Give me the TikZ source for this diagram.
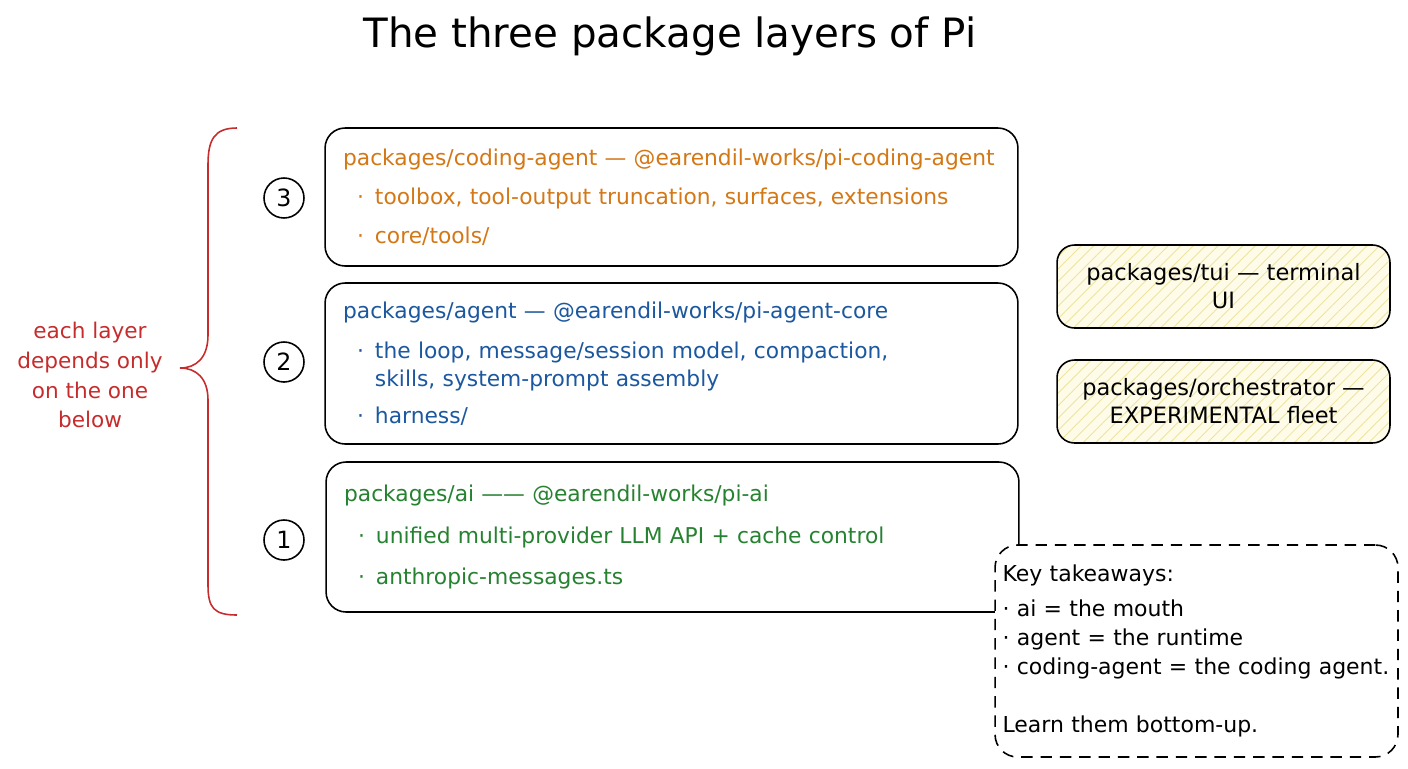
\documentclass[tikz,border=0pt]{standalone}
\usepackage{fontspec}
\setmainfont{DejaVu Sans}
\usetikzlibrary{patterns.meta}

\definecolor{layerorange}{RGB}{212,120,22}
\definecolor{layerblue}{RGB}{28,88,160}
\definecolor{layergreen}{RGB}{38,130,48}
\definecolor{notered}{RGB}{198,44,44}
\definecolor{hatchbg}{RGB}{254,251,232}
\definecolor{hatchline}{RGB}{238,228,160}

\newcommand{\bul}{\hspace*{0.28cm}·\hspace{0.22cm}}
\newcommand{\bulcont}{\hspace*{0.28cm}\phantom{·}\hspace{0.22cm}}

\begin{document}
\begin{tikzpicture}[x=0.02cm,y=-0.02cm,
	txt/.style = {font=\fontsize{12.4}{14}\selectfont},
	layer/.style = {draw,line width=0.9pt,rounded corners=0.4cm,fill=white,txt,
		align=left,text width=13.14cm,inner xsep=0.36cm,minimum width=13.86cm},
	num/.style = {draw,circle,line width=0.9pt,minimum size=0.8cm,inner sep=0pt,
		font=\fontsize{13.5}{15}\selectfont},
	side/.style = {draw,line width=0.9pt,rounded corners=0.35cm,align=center,
		minimum width=6.66cm,minimum height=1.66cm,font=\fontsize{12.8}{16}\selectfont,
		preaction={fill=hatchbg},pattern={Lines[angle=45,distance=5pt,line width=0.5pt]},
		pattern color=hatchline}]
		\useasboundingbox (0,0) rectangle (1408,768);

		% title
		\node[font=\fontsize{23}{26}\selectfont] (title) at (670,36) {The three package layers of Pi};

		% the three layers
		\node[layer,minimum height=2.76cm,text=layerorange] (layer3) at (671.5,197)
			{packages/coding-agent — @earendil-works/pi-coding-agent\\[0.29cm]
			\bul toolbox, tool-output truncation, surfaces, extensions\\[0.29cm]
			\bul core/tools/};
		\node[layer,minimum height=3.22cm,text=layerblue] (layer2) at (671.5,363.5)
			{packages/agent — @earendil-works/pi-agent-core\\[0.31cm]
			\bul the loop, message/session model, compaction,\\[0.07cm]
			\bulcont skills, system-prompt assembly\\[0.25cm]
			\bul harness/};
		\node[layer,minimum height=3cm,text=layergreen] (layer1) at (672.5,537)
			{packages/ai —— @earendil-works/pi-ai\\[0.35cm]
			\bul unified multi-provider LLM API + cache control\\[0.33cm]
			\bul anthropic-messages.ts};

		\node[num] (n3) at (284,198) {3};
		\node[num] (n2) at (284,362) {2};
		\node[num] (n1) at (284,540) {1};

		% brace and its note
		\draw[notered,line width=0.9pt] (237,128) .. controls (214,128) and (208,140) .. (208,165)
			-- (208,335) .. controls (208,358) and (196,368) .. (180,368)
			.. controls (196,368) and (208,378) .. (208,400)
			-- (208,585) .. controls (208,608) and (214,615) .. (237,615);
		\node[text=notered,align=center,font=\fontsize{12.3}{17}\selectfont] (note) at (90,375)
			{each layer\\depends only\\on the one\\below};

		% side packages
		\node[side] (tui) at (1223.5,286.5) {packages/tui — terminal\\UI};
		\node[side] (orch) at (1223.5,401.5) {packages/orchestrator —\\EXPERIMENTAL fleet};

		% takeaways
		\node[draw,dash pattern=on 6.5pt off 4.5pt,line width=0.9pt,rounded corners=0.45cm,fill=white,
			align=left,text width=7.76cm,inner xsep=0.15cm,minimum width=8.06cm,minimum height=4.24cm,
			font=\fontsize{12.5}{16.5}\selectfont] (keys) at (1196.5,651)
			{Key takeaways:\\[0.12cm]
			· ai = the mouth\\
			· agent = the runtime\\
			· coding-agent = the coding agent.\\[0.58cm]
			Learn them bottom-up.};
	\end{tikzpicture}
\end{document}
